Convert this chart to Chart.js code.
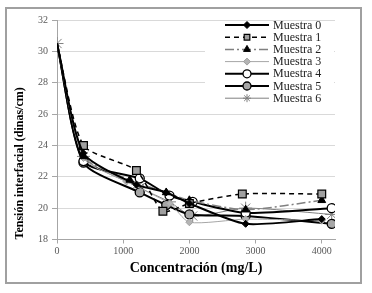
<!DOCTYPE html>
<html>
<head>
<meta charset="utf-8">
<script src="https://cdn.jsdelivr.net/npm/chart.js@4"></script>
<style>
html,body{margin:0;padding:0;background:#fff;}
#wrap{position:relative;width:372px;height:293px;}
</style>
</head>
<body>
<div id="wrap"><canvas id="c" width="372" height="293"></canvas></div>
<script>
// ---- data ----
const seriesNames = ["Muestra 0","Muestra 1","Muestra 2","Muestra 3","Muestra 4","Muestra 5","Muestra 6"];
const m0x = [0, 400, 1200, 1650, 2000, 2850, 4000];
const m0y = [30.5, 23.5, 21.5, 21.0, 20.3, 19.0, 19.3];
const m1x = [0, 400, 1200, 1600, 2000, 2800, 4000];
const m1y = [30.5, 24.0, 22.4, 19.8, 20.3, 20.9, 20.9];
const m2x = [0, 400, 1100, 1650, 2000, 2850, 4000];
const m2y = [30.5, 23.3, 21.8, 21.0, 20.5, 19.9, 20.5];
const m3x = [0, 400, 1050, 1700, 2000, 2850, 4000];
const m3y = [30.5, 23.2, 21.7, 20.3, 19.1, 19.3, 19.2];
const m4x = [0, 400, 1250, 1700, 2050, 2850, 4150];
const m4y = [30.5, 23.0, 21.9, 20.8, 20.4, 19.7, 20.0];
const m5x = [0, 400, 1250, 1650, 2000, 2850, 4150];
const m5y = [30.5, 22.9, 21.0, 20.2, 19.6, 19.5, 19.0];
const m6x = [0, 400, 1250, 1700, 2050, 2850, 4150];
const m6y = [30.5, 23.3, 21.3, 20.4, 19.5, 20.0, 19.6];
const yTicks = [18, 20, 22, 24, 26, 28, 30, 32];
const xTicks = [0, 1000, 2000, 3000, 4000];
const xTitle = "Concentración (mg/L)";
const yTitle = "Tensión interfacial (dinas/cm)";

const xs = [m0x,m1x,m2x,m3x,m4x,m5x,m6x];
const ys = [m0y,m1y,m2y,m3y,m4y,m5y,m6y];

const styles = [
  {borderColor:'#000', borderWidth:2, borderDash:[], pointStyle:'rectRot', r:3.5, pointBackgroundColor:'#000', pointBorderColor:'#000', pointBorderWidth:1},
  {borderColor:'#000', borderWidth:1.5, borderDash:[5,4], pointStyle:'rect', r:5.5, pointBackgroundColor:'#a0a0a0', pointBorderColor:'#000', pointBorderWidth:1.2},
  {borderColor:'#808080', borderWidth:1.5, borderDash:[9,3,2,3], pointStyle:'triangle', r:4.5, pointBackgroundColor:'#000', pointBorderColor:'#000', pointBorderWidth:1},
  {borderColor:'#a6a6a6', borderWidth:1, borderDash:[], pointStyle:'rectRot', r:3.5, pointBackgroundColor:'#b4b4b4', pointBorderColor:'#a0a0a0', pointBorderWidth:1},
  {borderColor:'#000', borderWidth:2, borderDash:[], pointStyle:'circle', r:4.5, pointBackgroundColor:'#fff', pointBorderColor:'#000', pointBorderWidth:1.3},
  {borderColor:'#000', borderWidth:2, borderDash:[], pointStyle:'circle', r:4.5, pointBackgroundColor:'#a6a6a6', pointBorderColor:'#000', pointBorderWidth:1.3},
  {borderColor:'#808080', borderWidth:1, borderDash:[], pointStyle:'star', r:6.5, pointBackgroundColor:'#fff', pointBorderColor:'#808080', pointBorderWidth:1}
];

const datasets = seriesNames.map((name, i) => {
  const s = styles[i];
  return {
    label: name,
    data: xs[i].map((x, j) => ({x: x, y: ys[i][j]})),
    fill: false,
    tension: 0.22,
    borderColor: s.borderColor,
    borderWidth: s.borderWidth,
    borderDash: s.borderDash,
    pointStyle: s.pointStyle,
    pointRadius: (c) => (c.dataIndex === 0 && i !== 6) ? 0 : s.r,
    legendRadius: s.r,
    pointBackgroundColor: s.pointBackgroundColor,
    pointBorderColor: s.pointBorderColor,
    pointBorderWidth: s.pointBorderWidth
  };
});

const SERIF = "'Liberation Serif','Times New Roman',serif";

const framePlugin = {
  id: 'frame',
  beforeDraw(chart) {
    const ctx = chart.ctx;
    ctx.save();
    ctx.fillStyle = '#fff';
    ctx.fillRect(0, 0, chart.width, chart.height);
    ctx.strokeStyle = '#a0a0a0';
    ctx.lineWidth = 2;
    ctx.strokeRect(6, 8, 355, 275);
    ctx.restore();
  }
};

const legendPlugin = {
  id: 'boxLegend',
  afterDatasetsDraw(chart) {
    const ctx = chart.ctx;
    ctx.save();
    ctx.fillStyle = '#fff';
    ctx.fillRect(205, 21, 129, 82);
    ctx.font = '12px ' + SERIF;
    ctx.textBaseline = 'middle';
    ctx.textAlign = 'left';
    chart.data.datasets.forEach((ds, i) => {
      const y = 25 + i * 12.2;
      ctx.save();
      ctx.strokeStyle = ds.borderColor;
      ctx.lineWidth = ds.borderWidth;
      ctx.setLineDash(ds.borderDash || []);
      ctx.beginPath();
      ctx.moveTo(225, y);
      ctx.lineTo(269, y);
      ctx.stroke();
      ctx.setLineDash([]);
      ctx.fillStyle = ds.pointBackgroundColor;
      ctx.strokeStyle = ds.pointBorderColor;
      ctx.lineWidth = ds.pointBorderWidth;
      Chart.helpers.drawPoint(ctx, {pointStyle: ds.pointStyle, radius: Math.min(ds.legendRadius, 4), rotation: 0, borderWidth: ds.pointBorderWidth}, 247, y);
      ctx.restore();
      ctx.fillStyle = '#222';
      ctx.fillText(ds.label, 273, y + 0.5);
    });
    ctx.restore();
  }
};

new Chart(document.getElementById('c'), {
  type: 'line',
  data: { datasets: datasets },
  plugins: [framePlugin, legendPlugin],
  options: {
    responsive: false,
    animation: false,
    events: [],
    layout: { padding: { left: 0, top: 20, right: 37, bottom: 10 } },
    plugins: { legend: { display: false }, tooltip: { enabled: false } },
    scales: {
      x: {
        type: 'linear',
        min: 0, max: 4200,
        afterBuildTicks(scale) { scale.ticks = xTicks.map(v => ({value: v})); },
        afterFit(scale) { scale.height = 43.5; },
        grid: { drawOnChartArea: false, drawTicks: true, tickLength: 4, color: '#a6a6a6' },
        border: { color: '#a6a6a6', width: 1 },
        ticks: { color: '#595959', font: { family: SERIF, size: 10 }, padding: 2, maxRotation: 0, callback: (v) => String(v) },
        title: { display: true, text: xTitle, color: '#000', font: { family: SERIF, size: 14, weight: 'bold' }, padding: { top: 0, bottom: 6 } }
      },
      y: {
        type: 'linear',
        min: 18, max: 32,
        afterBuildTicks(scale) { scale.ticks = yTicks.map(v => ({value: v})); },
        afterFit(scale) { scale.width = 57; },
        grid: { color: '#d9d9d9', tickLength: 5, tickColor: '#a6a6a6' },
        border: { color: '#a6a6a6', width: 1 },
        ticks: { color: '#595959', font: { family: SERIF, size: 10 }, padding: 4, callback: (v) => String(v) },
        title: { display: true, text: yTitle, align: 'start', color: '#000', font: { family: SERIF, size: 12, weight: 'bold' }, padding: { top: 13, bottom: 0 } }
      }
    }
  }
});
</script>
</body>
</html>
